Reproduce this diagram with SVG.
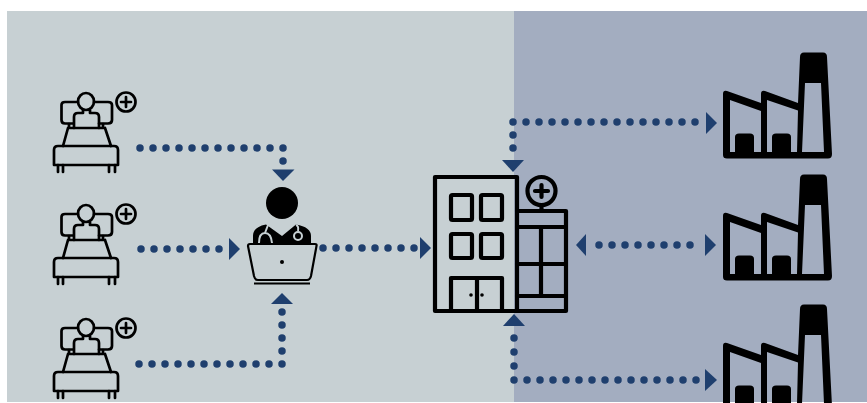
<svg xmlns="http://www.w3.org/2000/svg" width="867" height="403" viewBox="0 0 867 403">
<defs>
<style>
.ln{fill:none;stroke:#000;stroke-width:2.700;stroke-linejoin:round;stroke-linecap:round}
.hs{fill:none;stroke:#000;stroke-width:4.200;stroke-linejoin:round;stroke-linecap:round}
.dots{fill:none;stroke:#1f3f6e;stroke-width:7.500;stroke-linecap:round;stroke-dasharray:0 13}
.st{fill:none;stroke:#c7d0d3;stroke-width:2}
.ah{fill:#1f3f6e}
</style>
<g id="bed">
<ellipse class="ln" cx="86" cy="101.500" rx="8" ry="8.500"/>
<path class="ln" d="M78 102H65Q61.500 102 61.500 105V120Q61.500 123.500 65 123.500H73M94 102H108Q112 102 112 105V120Q112 123.500 108 123.500H99"/>
<path class="ln" d="M74 128V117Q74 113 78 113H83V110M90 110V113H95Q99 113 99 117V128"/>
<path class="ln" d="M68 128H105M68 128L63 146M105 128L111 146M69 124V128M103 124V128"/>
<path class="ln" d="M54 165V150Q54 146 58 146H114Q118 146 118 150V165Z"/>
<path class="ln" d="M58 165V172M63 165V172M109 165V172M115 165V172"/>
<circle class="ln" cx="126" cy="102" r="9.500"/>
<path class="ln" d="M121 102H131M126 97V107"/>
</g>
<g id="factory">
<path fill-rule="evenodd" d="M723 94Q723 90 727 91L761 103V94Q761 90 765 91L798 103L800 57Q800 52.500 804 52.500H823Q827 52.500 827 57L832 154Q832 158.500 828 158.500H727Q723 158.500 723 155ZM730 100V152H735V137Q735 133.500 739 133.500H750Q754 133.500 754 137V152H761V111ZM767 100V152H772V137Q772 133.500 776 133.500H787Q791 133.500 791 137V152H797L798 110.500ZM805 83L802 152H824L821 83Z"/>
</g>
</defs>
<rect x="7" y="11" width="507" height="391" fill="#c7d0d3"/>
<rect x="514" y="11" width="353" height="391" fill="#a3adc0"/>
<g id="connectors">
<path class="dots" d="M140 148H283V161.500"/>
<path class="ah" d="M272 169.500H294.500L283 181Z"/>
<path class="dots" d="M141 249H220"/>
<path class="ah" d="M229 238V260L240 249Z"/>
<path class="dots" d="M139 364H282V311.500"/>
<path class="ah" d="M271 304H293L282 293Z"/>
<path class="dots" d="M323 248H414.500"/>
<path class="ah" d="M420 237V259L431 248Z"/>
<path class="dots" d="M695 122H513V148.500"/>
<path class="ah" d="M502 160H524L513 172Z"/>
<path class="ah" d="M706 112V134L717 123Z"/>
<path class="dots" d="M599 245H692.500"/>
<path class="ah" d="M586 234V256L576 245Z"/>
<path class="ah" d="M705 234V256L716 245Z"/>
<path class="dots" d="M696 380H513.500"/>
<circle class="ah" cx="514" cy="366" r="3.750"/>
<circle class="ah" cx="514" cy="352" r="3.750"/>
<circle class="ah" cx="514" cy="338" r="3.750"/>
<path class="ah" d="M503 326H525L514 314Z"/>
<path class="ah" d="M705 369V391L717 380Z"/>
</g>
<g id="patient-1"><use href="#bed"/></g>
<g id="patient-2"><use href="#bed" y="112"/></g>
<g id="patient-3"><use href="#bed" y="226"/></g>
<g id="doctor">
<circle cx="282" cy="203" r="16"/>
<path d="M253 243V236Q253 227 266 224.500L282 236L296 224.500Q311 227 311 236V243Z"/>
<path class="st" d="M259 243Q259 233 265 233Q271 233 272 243M268 225L265 233M296 225Q299 226 298 231"/>
<circle class="st" cx="298" cy="236" r="4"/>
<path d="M250 244H315Q317 244 316.500 246L311 276Q310 280 307 280H258Q255 280 254 276L248 246Q248 244 250 244Z" fill="#c7d0d3" stroke="#000" stroke-width="2.200" stroke-linejoin="round"/>
<circle cx="282" cy="262" r="2"/>
<path d="M254 283.500H310" stroke="#000" stroke-width="2.200"/>
</g>
<g id="hospital">
<path class="hs" d="M435 177H517V311H435Z"/>
<rect class="hs" x="451" y="195" width="21" height="25" rx="1.500"/>
<rect class="hs" x="481" y="195" width="21" height="25" rx="1.500"/>
<rect class="hs" x="451" y="234" width="21" height="24" rx="1.500"/>
<rect class="hs" x="481" y="234" width="21" height="24" rx="1.500"/>
<path class="hs" d="M451 311V278H502V311M477 278V311"/>
<circle cx="471" cy="295" r="1.800"/>
<circle cx="482" cy="295" r="1.800"/>
<path class="hs" d="M517 211H566V311H517M517 227H566M517 264H566M517 296H566M541 227V296"/>
<circle class="hs" cx="541.500" cy="191" r="14"/>
<path class="hs" d="M535 191H548M541.500 185V197M541.500 205V211"/>
</g>
<g id="factory-1"><use href="#factory"/></g>
<g id="factory-2"><use href="#factory" y="122"/></g>
<g id="factory-3"><use href="#factory" y="252"/></g>
</svg>
